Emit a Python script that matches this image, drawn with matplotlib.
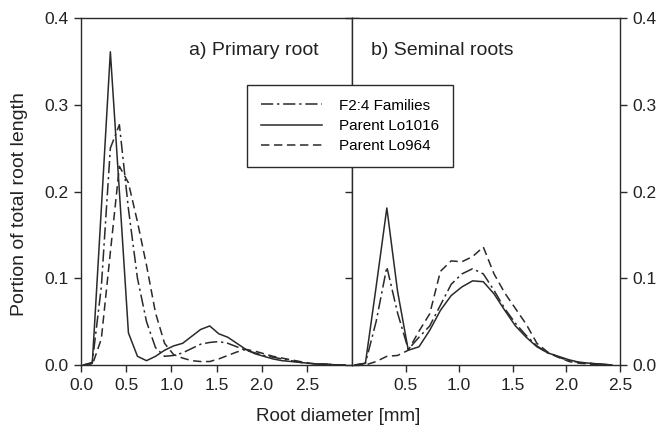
import numpy as np
import matplotlib
matplotlib.use('Agg')
import matplotlib.pyplot as plt

plt.rcParams['font.family'] = ['Liberation Sans', 'DejaVu Sans']

# root diameter classes (mm)
diam_a = [0.025, 0.125, 0.225, 0.325, 0.425, 0.525, 0.625, 0.725, 0.825, 0.925,
          1.025, 1.125, 1.225, 1.325, 1.425, 1.525, 1.625, 1.725, 1.825, 1.925,
          2.025, 2.125, 2.225, 2.325, 2.425, 2.525, 2.625, 2.725, 2.825, 2.925]
diam_b = diam_a[:25]

# a) primary root
prim_f24 = [0.0, 0.003, 0.09, 0.25, 0.277, 0.18, 0.10, 0.05, 0.02, 0.01,
            0.011, 0.014, 0.019, 0.024, 0.026, 0.027, 0.025, 0.021, 0.017, 0.014,
            0.011, 0.009, 0.007, 0.005, 0.003, 0.002, 0.001, 0.001, 0.0, 0.0]
prim_lo1016 = [0.0, 0.002, 0.18, 0.361, 0.20, 0.037, 0.010, 0.005, 0.010, 0.017,
               0.022, 0.025, 0.033, 0.041, 0.045, 0.036, 0.032, 0.025, 0.018, 0.013,
               0.010, 0.007, 0.005, 0.004, 0.003, 0.002, 0.001, 0.001, 0.0, 0.0]
prim_lo964 = [0.0, 0.0, 0.03, 0.13, 0.229, 0.21, 0.165, 0.115, 0.06, 0.025,
              0.012, 0.008, 0.005, 0.004, 0.004, 0.007, 0.011, 0.015, 0.018, 0.016,
              0.013, 0.010, 0.008, 0.006, 0.004, 0.002, 0.001, 0.001, 0.0, 0.0]

# b) seminal roots
sem_f24 = [0.0, 0.002, 0.05, 0.113, 0.06, 0.018, 0.032, 0.045, 0.069, 0.093,
           0.105, 0.111, 0.105, 0.086, 0.065, 0.048, 0.034, 0.022, 0.014, 0.009,
           0.005, 0.003, 0.002, 0.001, 0.0]
sem_lo1016 = [0.0, 0.002, 0.09, 0.181, 0.085, 0.017, 0.021, 0.040, 0.063, 0.080,
              0.090, 0.097, 0.096, 0.082, 0.063, 0.045, 0.032, 0.021, 0.014, 0.010,
              0.006, 0.003, 0.002, 0.001, 0.0]
sem_lo964 = [0.0, 0.0, 0.004, 0.010, 0.011, 0.017, 0.039, 0.059, 0.108, 0.120,
             0.119, 0.125, 0.136, 0.105, 0.083, 0.065, 0.047, 0.025, 0.015, 0.009,
             0.004, 0.002, 0.001, 0.0, 0.0]

labels = ['F2:4 Families', 'Parent Lo1016', 'Parent Lo964']
col = '#2a2a2a'
styles = [dict(dashes=[8, 2.5, 1.5, 2.5]), dict(linestyle='-'), dict(dashes=[5.5, 3])]

fig = plt.figure(figsize=(6.61, 4.32), dpi=100)
ax1 = fig.add_axes([81 / 661, 67 / 432, 271 / 661, 347 / 432])
ax2 = fig.add_axes([352 / 661, 67 / 432, 268 / 661, 347 / 432])

for ys, st, lab in zip([prim_f24, prim_lo1016, prim_lo964], styles, labels):
    ax1.plot(diam_a, ys, color=col, lw=1.1, label=lab, **st)
for ys, st in zip([sem_f24, sem_lo1016, sem_lo964], styles):
    ax2.plot(diam_b, ys, color=col, lw=1.1, **st)

ax1.set_xlim(0, 3.0)
ax2.set_xlim(0, 2.5)
for ax in (ax1, ax2):
    ax.set_ylim(0, 0.4)
    ax.set_yticks([0.0, 0.1, 0.2, 0.3, 0.4])
    for s in ax.spines.values():
        s.set_color(col)
        s.set_linewidth(1.0)
    ax.tick_params(direction='out', length=5, width=1, color=col, labelsize=12.5,
                   pad=4, labelcolor='#222222')
ax1.set_xticks([0.0, 0.5, 1.0, 1.5, 2.0, 2.5])
ax2.set_xticks([0.5, 1.0, 1.5, 2.0, 2.5])
for ax in (ax1, ax2):
    ax.yaxis.set_major_formatter(plt.FormatStrFormatter('%.1f'))
    ax.xaxis.set_major_formatter(plt.FormatStrFormatter('%.1f'))
ax1.tick_params(axis='y', left=True, right=True, labelleft=True, labelright=False)
ax2.tick_params(axis='y', left=True, right=True, labelleft=False, labelright=True)

ax1.text(0.40, 0.905, 'a) Primary root', transform=ax1.transAxes, fontsize=14,
         color='#222222', va='center')
ax2.text(0.07, 0.905, 'b) Seminal roots', transform=ax2.transAxes, fontsize=14,
         color='#222222', va='center')

fig.text(20 / 661, 0.528, 'Portion of total root length', rotation=90, fontsize=14,
         ha='center', va='center', color='#222222')
fig.text(0.511, 0.036, 'Root diameter [mm]', fontsize=13.5, ha='center', va='center',
         color='#222222')

leg = fig.legend(loc='upper left', bbox_to_anchor=(247 / 661, 347 / 432), fontsize=11,
                 handlelength=4.0, handletextpad=1.1, labelspacing=0.4,
                 borderaxespad=0, borderpad=0.9, fancybox=False, framealpha=1)
leg.get_frame().set_edgecolor(col)
leg.get_frame().set_linewidth(1.0)

fig.savefig('out.png', dpi=100)
